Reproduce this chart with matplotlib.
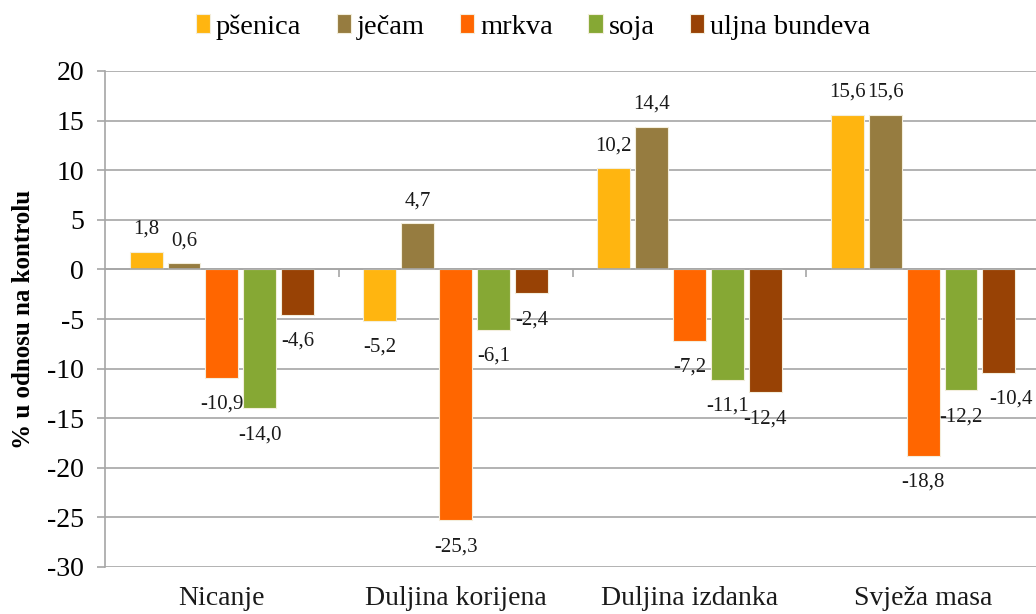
import matplotlib
matplotlib.use('Agg')
import matplotlib.pyplot as plt
import matplotlib.transforms as mtransforms
import numpy as np

plt.rcParams['font.family'] = ['Liberation Serif', 'DejaVu Serif']
plt.rcParams['axes.unicode_minus'] = False

categories = ['Nicanje', 'Duljina korijena', 'Duljina izdanka', 'Svježa masa']
series = ['pšenica', 'ječam', 'mrkva', 'soja', 'uljna bundeva']
colors = ['#FFB510', '#967C40', '#FF6600', '#86A834', '#984205']

psenica = [1.8, -5.2, 10.2, 15.6]
jecam = [0.6, 4.7, 14.4, 15.6]
mrkva = [-10.9, -25.3, -7.2, -18.8]
soja = [-14.0, -6.1, -11.1, -12.2]
uljna = [-4.6, -2.4, -12.4, -10.4]
values = [psenica, jecam, mrkva, soja, uljna]

fig = plt.figure(figsize=(10.36, 6.14), dpi=100)
ax = fig.add_axes([105/1036, 1-567/614, 935/1036, 496/614])

x = np.arange(len(categories))
pitch = 0.162
width = 0.141
grid_c = '#a6a6a6'

for i, (name, vals, c) in enumerate(zip(series, values, colors)):
    xs = x + (i - 2) * pitch
    ax.bar(xs, vals, width=width, color=c, edgecolor='#f3eedc', linewidth=0.8,
           label=name, zorder=3)
    for xi, v in zip(xs, vals):
        txt = f'{v:.1f}'.replace('.', ',')
        dx = 0
        # last label is pushed right, as in the original
        if xi > 3.3:
            dx = 9
        off = 16 if v >= 0 else -19
        ax.annotate(txt, (xi, v), xytext=(dx, off), textcoords='offset points',
                    ha='center', va='center', fontsize=15, color='#1a1a1a',
                    zorder=4)

ax.set_xlim(-0.5, len(categories) - 0.5)
ax.set_ylim(-30, 20)
ax.set_yticks(np.arange(-30, 21, 5))
ax.yaxis.grid(True, color=grid_c, linewidth=1.2, zorder=0)
ax.tick_params(axis='y', length=6, width=1.2, color=grid_c, pad=9, labelsize=20)

# horizontal axis crosses at zero, category labels sit at the bottom
ax.spines['bottom'].set_position(('data', 0))
ax.spines['bottom'].set_color(grid_c)
ax.spines['bottom'].set_linewidth(1.2)
ax.spines['bottom'].set_zorder(5)
ax.set_xticks(np.arange(0.5, len(categories) - 0.5, 1.0))
ax.set_xticklabels([])
ax.tick_params(axis='x', length=6, width=1.2, color=grid_c, direction='out')
trans = mtransforms.blended_transform_factory(ax.transData, ax.transAxes)
for xi, lab in zip(x, categories):
    ax.text(xi, -0.064, lab, transform=trans, ha='center', va='center',
            fontsize=20, color='#1a1a1a')

ax.spines['left'].set_color(grid_c)
ax.spines['left'].set_linewidth(1.2)
ax.spines['top'].set_visible(False)
ax.spines['right'].set_visible(False)

ax.set_ylabel('% u odnosu na kontrolu', fontsize=18, fontweight='bold')
ax.yaxis.set_label_coords(-0.075, 0.5)

fig.legend(loc='center', bbox_to_anchor=(533/1036, 1-27/614), ncol=5,
           frameon=False, fontsize=20.5, handlelength=0.5, handleheight=0.65,
           handletextpad=0.2, columnspacing=1.25, borderaxespad=0)

fig.savefig('out.png', dpi=100)
